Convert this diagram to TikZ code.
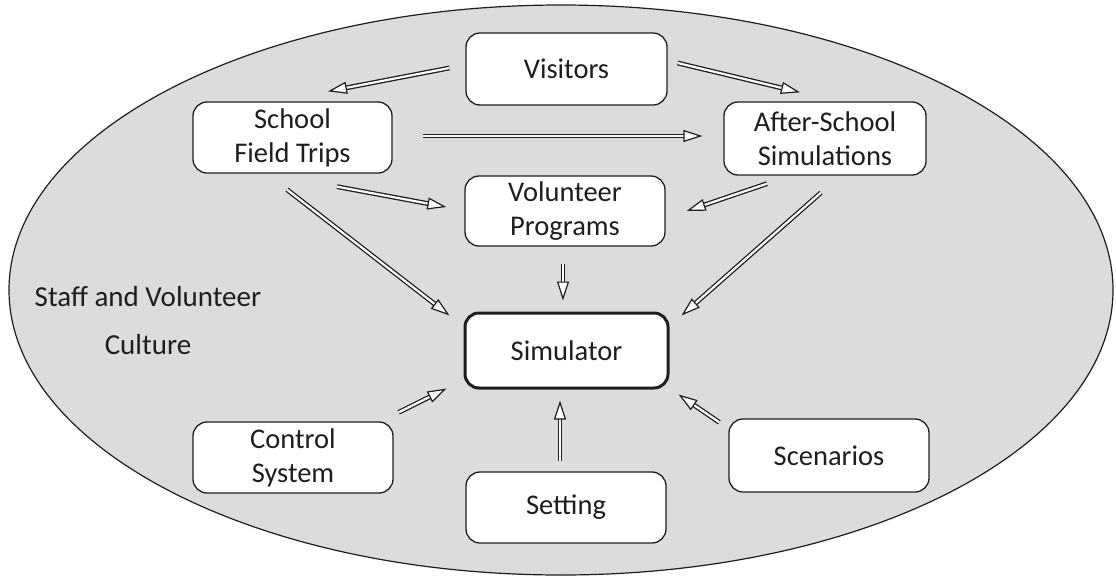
\documentclass[tikz,border=0pt]{standalone}
\usepackage{fontspec}
\setmainfont{Carlito}
\usetikzlibrary{arrows.meta,decorations.markings,calc}
\definecolor{ellfill}{HTML}{DCDCDC}
\definecolor{ink}{HTML}{1E1E1E}
\begin{document}
\begin{tikzpicture}[x=1pt,y=-1pt,
  box/.style={draw=ink, line width=1.3pt, fill=white, rounded corners=14pt,
    minimum width=200pt, minimum height=71pt, align=center, inner sep=0pt,
    text=ink, font=\fontsize{28.5}{34}\selectfont},
  simbox/.style={box, line width=3pt},
  arr/.style={draw=ink, line width=1.3pt, double=white, double distance=2.2pt,
    shorten >=14pt,
    postaction={decorate, decoration={markings, mark=at position 1 with
      {\arrow[ink, line width=1.2pt]{Triangle[fill=white, length=19pt, width=12pt]}}}}}
]
\useasboundingbox (0,0) rectangle (1116,579);
\draw[draw=ink, line width=1.2pt, fill=ellfill] (561,290) ellipse [x radius=552pt, y radius=285pt];

\node[text=ink, align=center, font=\fontsize{29}{48}\selectfont] (cult) at (148,321) {Staff and Volunteer\\Culture};

\node[box, minimum width=201pt, minimum height=72pt] (vis) at (566.5,69) {Visitors};
\node[box, minimum width=199pt, minimum height=71pt] (sch) at (292.5,137.5) {School\\Field Trips};
\node[box, minimum width=202pt, minimum height=73pt] (aft) at (825,138.5) {After-School\\Simulations};
\node[box, minimum width=200pt, minimum height=70pt] (vol) at (565,211) {Volunteer\\Programs};
\node[simbox, minimum width=203pt, minimum height=75pt] (sim) at (566.5,350.5) {Simulator};
\node[box, minimum width=200pt, minimum height=71pt] (ctl) at (293,457.5) {Control\\System};
\node[box, minimum width=200pt, minimum height=71pt] (set) at (566,507.5) {Setting};
\node[box, minimum width=200pt, minimum height=73pt] (scn) at (829,455.5) {Scenarios};

\draw[arr] ($(vis.west)+(-16,-1)$) -- ($(sch.north)+(35.5,-10)$);
\draw[arr] ($(vis.east)+(10,-6)$) -- ($(aft.north)+(-25,-9)$);
\draw[arr] ($(sch.east)+(30,-1.5)$) -- ($(aft.west)+(-21,-2.5)$);
\draw[arr] ($(sch.south)+(44.5,13)$) -- ($(vol.west)+(-18,-4)$);
\draw[arr] ($(aft.south)+(-58,8)$) -- ($(vol.east)+(21,0)$);
\draw[arr] ($(sch.south)+(-5.5,16)$) -- ($(sim.north west)+(-14,4)$);
\draw[arr] ($(aft.south)+(-4,17)$) -- ($(sim.north east)+(12,4)$);
\draw[arr] ($(vol.south)+(-2,17)$) -- ($(sim.north)+(-3.5,-11)$);
\draw[arr] ($(ctl.north east)+(5,-9)$) -- ($(sim.south west)+(-17,-1)$);
\draw[arr] ($(set.north)+(-6,-10)$) -- ($(sim.south)+(-6.5,11)$);
\draw[arr] ($(scn.north west)+(-9,4)$) -- ($(sim.south east)+(9,5)$);
\end{tikzpicture}
\end{document}
